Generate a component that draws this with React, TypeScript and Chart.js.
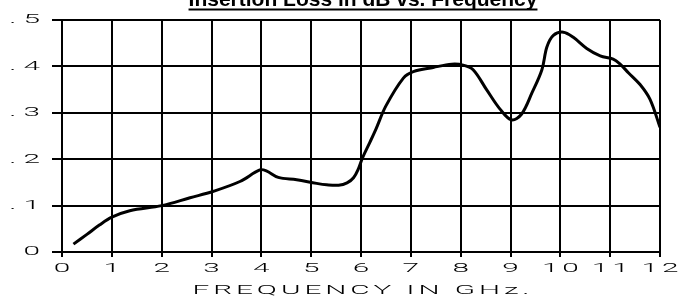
import React, { useEffect, useRef } from "react";
import { Chart, registerables } from "chart.js";

Chart.register(...registerables);

// ---- data ----
const FREQ = [
  0.23, 0.5, 0.75, 1.0, 1.36, 2.0, 2.57, 3.04, 3.57, 3.97, 4.1, 4.34, 4.71,
  5.11, 5.31, 5.55, 5.72, 5.85, 5.95, 6.03, 6.18, 6.3, 6.5, 6.85, 7.05, 7.45,
  7.82, 8.05, 8.25, 8.52, 8.79, 9.02, 9.22, 9.43, 9.63, 9.73, 9.86, 10.06,
  10.26, 10.53, 10.8, 11.06, 11.2, 11.37, 11.6, 11.8, 12.0,
];
const LOSS = [
  0.017, 0.038, 0.058, 0.075, 0.089, 0.1, 0.117, 0.131, 0.152, 0.177, 0.175,
  0.161, 0.156, 0.148, 0.145, 0.144, 0.149, 0.16, 0.18, 0.203, 0.237, 0.265,
  0.315, 0.375, 0.389, 0.398, 0.405, 0.403, 0.393, 0.35, 0.308, 0.285, 0.297,
  0.343, 0.393, 0.442, 0.467, 0.474, 0.463, 0.439, 0.423, 0.416, 0.405, 0.386,
  0.361, 0.329, 0.269,
];
const X_TICKS = ["0", "1", "2", "3", "4", "5", "6", "7", "8", "9", "10", "11", "12"];
const Y_TICKS = ["0", ". 1", ". 2", ". 3", ". 4", ". 5"];
const TITLE = "Insertion Loss in dB vs. Frequency";
const X_TITLE = "FREQUENCY IN GHz.";

const STRETCH = 2.2;
const SPACING = 1.8;
const AXIS_FONT = { family: "Roboto, 'DejaVu Sans', sans-serif", size: 13.5, weight: 300 as any, lineHeight: 1.2 };

const stretchPlugin = {
  id: "stretchText",
  beforeDraw(chart: any) {
    const ctx = chart.ctx as any;
    const orig = CanvasRenderingContext2D.prototype.fillText;
    ctx.fillText = function (text: string, x: number, y: number) {
      const centered = this.textAlign === "center";
      const sp = centered ? SPACING : 0;
      this.save();
      this.translate(x + (centered ? (sp * STRETCH) / 2 : 0), y);
      this.scale(STRETCH, 1);
      this.letterSpacing = sp + "px";
      orig.call(this, text, 0, 0);
      this.restore();
    };
  },
  afterDatasetsDraw(chart: any) {
    delete (chart.ctx as any).fillText;
  },
  afterDraw(chart: any) {
    const ctx = chart.ctx as CanvasRenderingContext2D;
    delete (ctx as any).fillText;
    const { left, right } = chart.chartArea;
    const cx = (left + right) / 2 + 2;
    ctx.save();
    ctx.font = "bold 21px 'Liberation Sans', Arial, sans-serif";
    ctx.fillStyle = "#000";
    ctx.textAlign = "center";
    ctx.textBaseline = "alphabetic";
    ctx.fillText(TITLE, cx, 6);
    const w = ctx.measureText(TITLE).width;
    ctx.fillRect(cx - w / 2, 8.5, w, 2);
    ctx.restore();
  },
};

export default function App() {
  const ref = useRef<HTMLCanvasElement | null>(null);

  useEffect(() => {
    if (!ref.current) return;
    const chart = new Chart(ref.current, {
      type: "line",
      data: {
        datasets: [
          {
            data: FREQ.map((f, i) => ({ x: f, y: LOSS[i] })),
            borderColor: "#000",
            borderWidth: 3,
            pointRadius: 0,
            tension: 0.35,
            fill: false,
          },
        ],
      },
      options: {
        animation: false,
        responsive: false,
        devicePixelRatio: 1,
        layout: { padding: { left: 0, right: 18, top: 16, bottom: 0 } },
        plugins: { legend: { display: false }, tooltip: { enabled: false }, title: { display: false } },
        scales: {
          x: {
            type: "linear",
            min: 0,
            max: 12,
            ticks: {
              stepSize: 1,
              autoSkip: false,
              maxRotation: 0,
              color: "#000",
              font: AXIS_FONT,
              padding: 4,
              callback: (v: any) => X_TICKS[Math.round(Number(v))],
            },
            grid: { color: "#000", lineWidth: 2, tickLength: 5, tickColor: "#000", tickWidth: 2 },
            border: { display: true, color: "#000", width: 2 },
            title: { display: true, text: X_TITLE, color: "#000", font: AXIS_FONT, padding: { top: 0, bottom: 0 } },
            afterFit: (s: any) => {
              s.height = 47;
            },
          },
          y: {
            type: "linear",
            min: 0,
            max: 0.5,
            ticks: {
              stepSize: 0.1,
              color: "#000",
              font: AXIS_FONT,
              padding: 12,
              callback: (v: any) => Y_TICKS[Math.round(Number(v) * 10)],
            },
            grid: { color: "#000", lineWidth: 2, tickLength: 10, tickColor: "#000", tickWidth: 2 },
            border: { display: true, color: "#000", width: 2 },
            afterFit: (s: any) => {
              s.width = 62;
            },
          },
        },
      },
      plugins: [stretchPlugin],
    });
    return () => chart.destroy();
  }, []);

  return (
    <div style={{ position: "absolute", left: 0, top: 0, width: 678, height: 299, background: "#fff" }}>
      <canvas ref={ref} width={678} height={299} style={{ width: 678, height: 299, display: "block" }} />
    </div>
  );
}
